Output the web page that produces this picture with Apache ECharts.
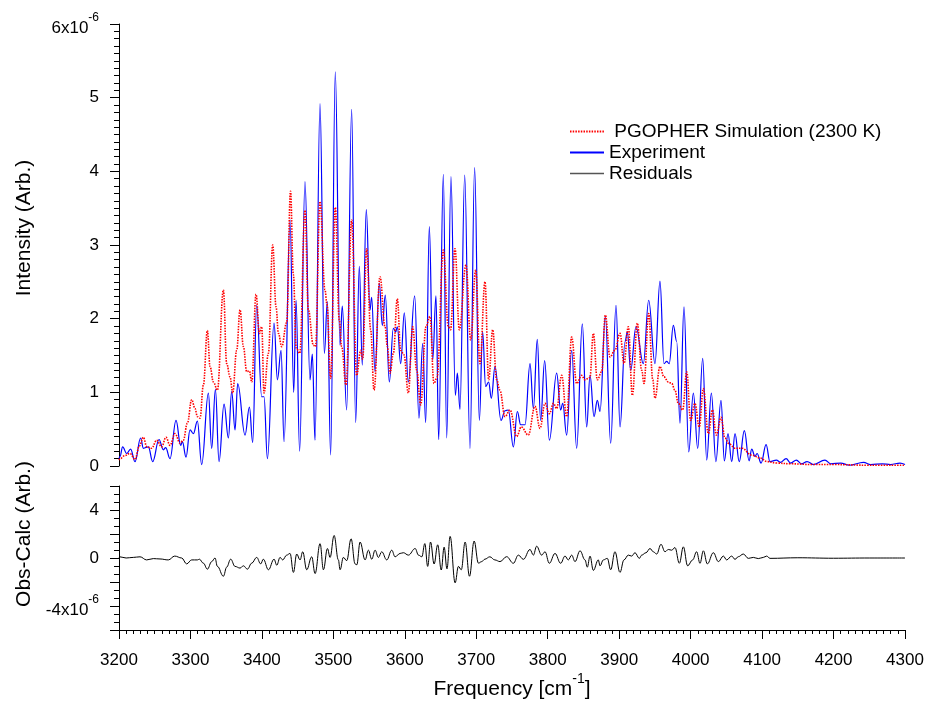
<!DOCTYPE html>
<html><head><meta charset="utf-8">
<script src="https://cdn.jsdelivr.net/npm/echarts@6/dist/echarts.min.js"></script>
<style>html,body{margin:0;padding:0;background:#fff}#c{width:927px;height:701px}</style>
</head><body><div id="c"></div><script>
// Intensities in units of 1e-6 (Arb.)
const expFreq = [3200,3201.4,3205.1,3210.7,3216.3,3222.4,3230.3,3234.1,3241.1,3247.1,3256.0,3262.1,3265.3,3271.4,3279.8,3286.3,3288.7,3293.8,3299.4,3304.1,3309.7,3315.7,3325.1,3329.7,3334.9,3340.0,3347.0,3353.1,3357.7,3362.4,3366.1,3376.4,3382.5,3387.1,3392.7,3399.7,3403.0,3407.7,3417.0,3421.7,3426.8,3431.0,3439.4,3444.5,3447.8,3452.8,3460.3,3467.3,3470.6,3474.3,3481.3,3487.4,3491.6,3496.2,3502.7,3509.3,3512.5,3518.6,3525.6,3531.2,3536.3,3540.5,3546.1,3551.3,3553.6,3558.3,3564.3,3568.5,3572.7,3578.3,3583.9,3587.2,3589.5,3594.2,3599.3,3604.9,3613.8,3619.8,3625.0,3629.2,3634.3,3639.0,3643.6,3647.4,3653.9,3658.6,3664.6,3670.7,3673.5,3677.2,3683.8,3691.2,3697.7,3704.3,3708.9,3713.1,3717.3,3721.1,3726.2,3734.6,3740.2,3744.9,3751.9,3757.5,3762.1,3768.2,3775.2,3779.9,3785.4,3790.1,3795.7,3802.3,3812.5,3818.1,3821,3826.5,3833.5,3840.5,3848.4,3854.5,3859.2,3864.8,3869.4,3873.2,3880.6,3888.1,3895.6,3901.2,3908.2,3911.4,3916.1,3923.5,3933.8,3941.3,3950.1,3957.1,3962.7,3966.5,3970,3975.8,3980.5,3985.1,3990.7,3997.3,4003.8,4009.9,4016.9,4022.5,4029.0,4035.3,4042.5,4047.2,4052.3,4057.5,4062.1,4068.0,4075.2,4081.8,4085.5,4090,4093,4098.6,4105.6,4111,4120,4126,4133.6,4140,4148,4155,4163,4172,4188,4196,4210,4222,4242,4252,4268,4280,4293,4300];
const expInt = [0.10,0.13,0.26,0.17,0.23,0.06,0.38,0.24,0.26,0.06,0.36,0.22,0.25,0.10,0.62,0.28,0.33,0.12,0.49,0.44,0.61,0.02,0.99,0.24,1.04,0.06,0.84,0.38,1.01,0.49,1.12,0.42,0.80,0.32,2.18,0.94,0.94,0.10,1.94,1.17,1.57,0.33,3.34,1.0,2.25,0.2,3.86,1.17,1.52,0.35,4.92,1.53,2.23,0.15,5.35,1.64,2.17,0.76,4.84,0.59,2.71,1.37,3.48,2.12,2.29,1.28,2.48,1.91,2.32,1.14,1.87,1.82,1.89,1.39,2.08,1.14,2.31,0.65,1.66,0.59,3.25,1.44,2.31,0.36,3.96,0.38,3.93,0.96,1.26,0.77,3.95,0.24,4.05,0.62,1.82,1.08,1.14,0.92,1.35,0.62,0.75,0.76,0.26,0.74,0.56,0.56,1.39,0.78,1.72,0.62,1.43,0.35,1.26,0.76,0.85,0.42,1.57,0.24,1.93,0.53,1.23,0.67,0.89,0.74,2.03,0.31,2.18,0.53,1.69,1.82,1.30,1.89,1.39,2.25,1.39,2.51,1.39,1.42,1.39,1.91,1.69,0.58,2.16,0.19,0.99,0.24,1.46,0.08,0.99,0.06,0.89,0.07,0.44,0.06,0.44,0.06,0.48,0.07,0.23,0.13,0.17,0.04,0.29,0.06,0.08,0.05,0.10,0.04,0.08,0.03,0.06,0.02,0.08,0.03,0.04,0.01,0.05,0.02,0.03,0.02,0.04,0.02];

const simFreq = [3200,3201.4,3208,3215.4,3222.4,3228.5,3234,3239,3245.7,3252.7,3259.7,3265.8,3271.4,3278.4,3285.4,3290,3295.7,3301.7,3306.4,3309.7,3313.4,3318.1,3323.7,3327.4,3332.1,3337.7,3346.1,3350.7,3355.4,3359.1,3364.7,3369.4,3374.1,3378.7,3382.5,3385.8,3391.8,3396.5,3399.7,3403.0,3409.1,3415.1,3419.8,3423.1,3427.7,3434.7,3440.0,3444,3448,3453,3460.3,3465,3472,3475,3481.3,3488.3,3491,3496.2,3502.7,3508.3,3511.6,3517.7,3525.6,3532.6,3538.2,3541,3546.6,3552.2,3556.9,3565.3,3572.3,3575.6,3579.3,3584,3589.5,3594.2,3598.8,3604.9,3611.0,3616.6,3622.2,3629.6,3635.2,3640.8,3645,3653.9,3660.9,3664,3670.2,3676.3,3685.6,3692.2,3699.2,3705.2,3712.2,3717.3,3723.0,3728.5,3733,3740.2,3747.2,3756.6,3763,3772.8,3782.2,3789.2,3796.2,3802.3,3808,3812.5,3819.5,3826.5,3833.5,3840.5,3847.5,3852,3859,3863.8,3869.4,3875.5,3880.6,3887.2,3894,3901.2,3906.8,3912.8,3918.4,3925.4,3931.5,3934.7,3941.3,3947,3950.1,3957.1,3962.7,3968.8,3973.5,3978,3982.8,3988.9,3994.5,4000,4006,4012,4017.8,4024.8,4030.5,4036,4042.6,4048,4054,4062,4072,4085,4097,4107,4120,4140,4170,4200,4250,4300];
const simInt = [0.08,0.10,0.14,0.17,0.09,0.27,0.39,0.26,0.24,0.35,0.26,0.39,0.28,0.44,0.31,0.35,0.58,0.90,0.78,0.67,0.65,1.10,1.84,1.35,1.14,1.03,2.39,1.39,1.21,0.99,1.57,2.12,1.62,1.28,1.29,1.14,2.33,1.80,1.89,0.99,1.53,3.0,2.16,1.80,1.62,1.95,3.73,2.6,1.6,1.53,3.47,2.12,1.64,1.62,3.59,2.39,2.2,1.19,3.51,1.98,1.62,1.10,3.34,1.23,1.57,1.45,2.95,1.85,1.03,2.57,1.89,1.62,1.26,1.53,2.27,1.57,1.51,0.99,1.89,1.30,0.83,1.89,2.03,1.12,1.2,2.93,1.89,1.85,2.95,1.85,2.73,1.71,2.66,1.39,2.50,1.17,1.85,1.17,1.03,0.67,0.76,0.40,0.53,0.42,0.81,0.51,0.85,0.71,0.85,0.78,1.23,0.67,1.75,1.12,1.23,1.17,1.20,1.80,1.17,1.28,2.05,1.48,1.57,1.80,1.39,1.89,0.96,1.94,1.30,1.12,2.07,1.17,0.92,1.35,1.21,1.14,1.12,1.03,0.85,0.76,1.28,0.62,0.85,0.53,1.05,0.44,0.76,0.42,0.66,0.38,0.30,0.24,0.24,0.15,0.11,0.06,0.04,0.03,0.02,0.02,0.01,0.01];

const resFreq = [3200,3201,3210,3220,3229.4,3238.7,3248,3257.4,3269,3278,3287.7,3294.7,3301.7,3309.7,3312.5,3318,3323.7,3329.7,3334.4,3337.7,3346.1,3350.7,3356.3,3362.4,3369.4,3374.1,3379.7,3385.8,3392.7,3398.3,3402,3409.1,3417,3420.8,3425.4,3429.1,3434.7,3439.4,3444.1,3448.7,3453.4,3457.1,3462.7,3469.7,3474.4,3481.4,3486.1,3491.7,3495.4,3501,3507,3509.4,3514,3518.7,3524.8,3530.4,3532.8,3537.4,3544.4,3549,3553.7,3558.4,3563,3567.7,3574.7,3581.7,3586.4,3593.4,3598,3605,3614.5,3619.1,3623.8,3628,3632,3636,3641,3646,3651,3655,3659,3663.4,3670.4,3675,3679,3684.4,3690.5,3697,3703,3707.6,3712,3719,3726,3733.2,3742.5,3751.9,3758.9,3765.9,3775.2,3779.9,3784.5,3791.5,3796.2,3802.2,3810.2,3818.1,3824.2,3828.8,3833.5,3838.2,3845.2,3852.2,3855.4,3859.2,3863.8,3870.8,3873.2,3877.8,3883.4,3888.1,3894.1,3901.1,3906.7,3912.8,3917.5,3922.1,3928.2,3931.5,3937.5,3943.1,3947.8,3952.5,3958.5,3964.1,3968.8,3973.4,3978.1,3984.2,3989.8,3995.8,4002.8,4008.4,4013.1,4017.8,4023.4,4031.8,4038.8,4045.8,4050.4,4057.4,4062.1,4066.8,4073.7,4080.8,4087.8,4094.7,4101.7,4106.4,4111.1,4150,4200,4250,4300];
const resVal = [0.05,0.1,0.0,0.05,0.1,-0.16,-0.05,-0.08,-0.16,0.16,0.0,-0.49,-0.16,-0.16,-0.1,-0.43,-0.93,-0.3,0.0,-0.7,-1.52,-0.76,-0.1,-0.7,-0.84,-0.65,-0.93,-0.43,0.05,-0.49,-0.1,-0.98,-0.1,-0.6,0.05,-0.16,0.24,0.38,-1.2,0.33,-0.16,0.52,-0.98,0.1,-1.3,1.2,-0.98,0.79,0.05,1.88,-0.16,-0.98,0.05,-0.22,1.6,-0.49,-0.57,1.33,-0.16,0.65,-0.1,0.65,0.05,0.52,-0.16,0.65,0.1,0.38,0.44,0.24,0.79,0.24,0.1,1.2,-0.7,1.33,-0.5,1.1,-1.0,0.9,-0.9,1.8,-2.07,-0.7,-0.98,1.33,-1.52,1.41,-0.43,-0.3,-0.1,0.1,-0.16,-0.3,0.11,-0.44,0.24,-0.11,0.71,0.24,0.98,0.24,0.52,-0.44,0.38,-0.44,0.16,-0.16,0.24,-0.3,0.6,-0.16,-0.76,0.16,-1.03,-0.16,-0.65,-0.16,-0.03,-0.98,0.52,-1.2,-0.16,0.24,0.16,0.44,-0.03,0.24,0.44,0.79,0.52,0.33,1.14,0.52,0.71,0.65,0.87,-0.44,0.93,-0.65,-0.16,0.52,-0.44,0.6,-0.49,0.44,-0.3,0.16,-0.16,0.16,-0.11,0.11,0.33,-0.03,0.05,-0.05,0.05,0.16,-0.03,0.02,-0.02,0.0,0.0];

const xMin = 3200, xMax = 4300;
const topYTicks = [0,1,2,3,4,5,6];
const botYTickLabels = [-4,0,4];
const SIM = 'PGOPHER Simulation (2300 K)';

const zip = (a,b) => a.map((v,i) => [v,b[i]]);
const FONT = 'Liberation Sans, Arial, sans-serif';

const chart = echarts.init(document.getElementById('c'), null, {renderer:'canvas'});
const supRich = {
  b:{fontSize:17, fontFamily:FONT, color:'#000', padding:[8,0,0,0], verticalAlign:'bottom'},
  s:{fontSize:12, fontFamily:FONT, color:'#000', verticalAlign:'top'}
};
chart.setOption({
  animation:false,
  backgroundColor:'#fff',
  textStyle:{fontFamily:FONT},
  legend:{
    orient:'vertical', left:569, top:122, padding:0, itemWidth:34, itemHeight:12, itemGap:2,
    itemStyle:{opacity:0, borderWidth:0},
    textStyle:{fontSize:19, color:'#000', fontFamily:FONT},
    formatter: name => name === SIM ? ' ' + name : name,
    data:[SIM,'Experiment',{name:'Residuals', lineStyle:{color:'#555', width:1.5}}]
  },
  graphic:[
    {type:'text', x:24, y:228, rotation:Math.PI/2, style:{text:'Intensity (Arb.)', fontSize:21, fontFamily:FONT, fill:'#000', align:'center', verticalAlign:'middle'}},
    {type:'text', x:24, y:534, rotation:Math.PI/2, style:{text:'Obs-Calc (Arb.)', fontSize:21, fontFamily:FONT, fill:'#000', align:'center', verticalAlign:'middle'}}
  ],
  grid:[
    {left:119, right:22, top:24, height:442},
    {left:119, right:22, top:486, height:147}
  ],
  xAxis:[
    {type:'value', gridIndex:0, min:xMin, max:xMax, interval:100, show:false},
    {type:'value', gridIndex:1, min:xMin, max:xMax, interval:100,
     axisLine:{onZero:false, lineStyle:{color:'#000', width:1}},
     axisTick:{length:9, lineStyle:{color:'#000'}},
     minorTick:{show:true, splitNumber:10, length:4, lineStyle:{color:'#000'}},
     splitLine:{show:false},
     axisLabel:{fontSize:17, color:'#000', margin:22, fontFamily:FONT, formatter:v => String(v)},
     name:'{a|Frequency [cm}{s|-1}{a|]}', nameLocation:'middle', nameGap:42,
     nameTextStyle:{rich:{
       a:{fontSize:21, fontFamily:FONT, color:'#000', padding:[7,0,0,0], verticalAlign:'bottom'},
       s:{fontSize:14, fontFamily:FONT, color:'#000', verticalAlign:'top'}}}}
  ],
  yAxis:[
    {type:'value', gridIndex:0, min:0, max:6, interval:1,
     axisLine:{show:true, lineStyle:{color:'#000'}},
     axisTick:{show:true, length:9, lineStyle:{color:'#000'}},
     minorTick:{show:true, splitNumber:10, length:5, lineStyle:{color:'#000'}},
     splitLine:{show:false},
     axisLabel:{margin:20, fontSize:17, color:'#000', fontFamily:FONT,
       formatter:v => v===6 ? '{b|6x10}{s|-6}' : (topYTicks.includes(v) ? String(v) : ''),
       rich:supRich}},
    {type:'value', gridIndex:1, min:-6, max:6, interval:2,
     axisLine:{show:true, onZero:false, lineStyle:{color:'#000'}},
     axisTick:{show:true, length:9, lineStyle:{color:'#000'}},
     minorTick:{show:true, splitNumber:3, length:5, lineStyle:{color:'#000'}},
     splitLine:{show:false},
     axisLabel:{margin:20, fontSize:17, color:'#000', fontFamily:FONT,
       formatter:v => !botYTickLabels.includes(v) ? '' : (v===-4 ? '{b|-4x10}{s|-6}' : String(v)),
       rich:supRich}}
  ],
  series:[
    {name:'Experiment', type:'line', xAxisIndex:0, yAxisIndex:0, data:zip(expFreq,expInt),
     showSymbol:false, symbol:'none', smooth:0.4, smoothMonotone:'x',
     lineStyle:{color:'#0000ff', width:1.2}, itemStyle:{color:'#0000ff'}, z:2},
    {name:SIM, type:'line', xAxisIndex:0, yAxisIndex:0, data:zip(simFreq,simInt),
     showSymbol:false, symbol:'none', smooth:0.4, smoothMonotone:'x',
     lineStyle:{color:'#ff0000', width:1.6, type:[1.5,1.2]}, itemStyle:{color:'#ff0000'}, z:3},
    {name:'Residuals', type:'line', xAxisIndex:1, yAxisIndex:1, data:zip(resFreq,resVal),
     showSymbol:false, symbol:'none', smooth:0.4, smoothMonotone:'x',
     lineStyle:{color:'#000', width:1}, itemStyle:{color:'#000'}, z:2}
  ]
});
</script></body></html>
